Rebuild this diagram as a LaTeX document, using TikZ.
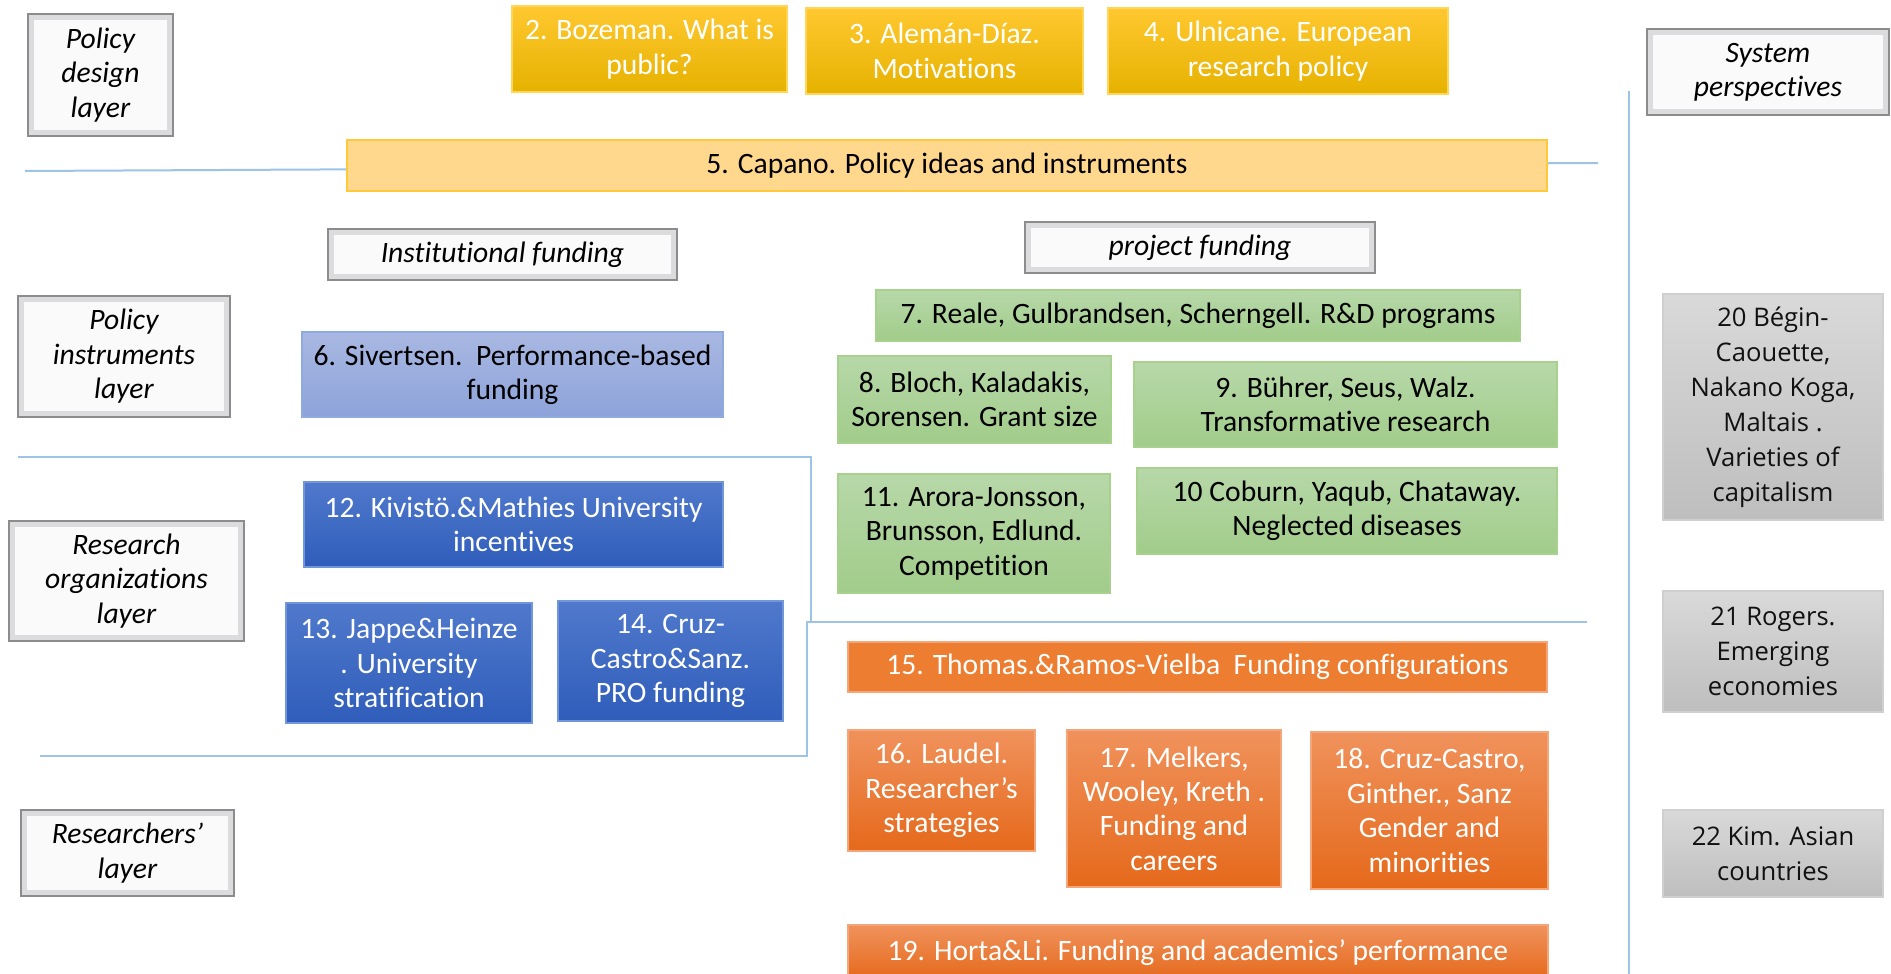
\documentclass[tikz,border=0pt]{standalone}
\usepackage{fontspec}
\setmainfont{Carlito}[Ligatures=NoCommon]
\newfontfamily\grayfont{Open Sans}
\definecolor{lineC}{HTML}{9DC3E6}
\definecolor{layB}{HTML}{8C8C8C}
\definecolor{layO}{HTML}{DCDCDF}
\definecolor{layI}{HTML}{FAFAFB}
\definecolor{yelT}{HTML}{FFC830}
\definecolor{yelBo}{HTML}{E6B200}
\definecolor{yelD}{HTML}{FFD55A}
\definecolor{capF}{HTML}{FFD88E}
\definecolor{capD}{HTML}{FFC93C}
\definecolor{lavT}{HTML}{A9B8E2}
\definecolor{lavB}{HTML}{8DA3DA}
\definecolor{lavD}{HTML}{8FAADC}
\definecolor{grnT}{HTML}{B7D8A9}
\definecolor{grnB}{HTML}{A1CC8A}
\definecolor{grnD}{HTML}{A9D18E}
\definecolor{bluT}{HTML}{5079CC}
\definecolor{bluB}{HTML}{2F5DBA}
\definecolor{bluD}{HTML}{7196DA}
\definecolor{orF}{HTML}{ED7D31}
\definecolor{orT}{HTML}{F0925C}
\definecolor{orB}{HTML}{E5691B}
\definecolor{orD}{HTML}{F4A57A}
\definecolor{gryT}{HTML}{D9D9D9}
\definecolor{gryB}{HTML}{BEBEBE}
\definecolor{gryD}{HTML}{CFCFCF}
\definecolor{txtD}{HTML}{111111}
\newcommand\mainsz{\fontsize{14.8}{17.2}\selectfont}
\newcommand\graysz{\fontsize{12.8}{17.5}\selectfont}
\newcommand\bx[7]{\node[#2, minimum width={(#5-#3)*0.5pt}, minimum height={(#6-#4)*0.5pt}] (#1) at ({(#3+#5)/2},{(#4+#6)/2}) {#7};}
\tikzset{
  every node/.style={inner sep=0pt, outer sep=0pt, align=center},
  sepline/.style={draw=lineC, line width=1pt},
  layerbox/.style={draw=layB, line width=1pt, fill=layO, text=black, font=\mainsz\itshape,
    path picture={\fill[layI] ([xshift=3pt,yshift=-3pt]path picture bounding box.north west) rectangle ([xshift=-3pt,yshift=3pt]path picture bounding box.south east);}},
  ybox/.style={draw=yelD, line width=0.6pt, top color=yelT, bottom color=yelBo, text=white, font=\mainsz},
  capbox/.style={draw=capD, line width=0.6pt, fill=capF, text=black, font=\mainsz},
  lavbox/.style={draw=lavD, line width=0.6pt, top color=lavT, bottom color=lavB, text=black, font=\mainsz},
  gbox/.style={draw=grnD, line width=0.6pt, top color=grnT, bottom color=grnB, text=black, font=\mainsz},
  bbox/.style={draw=bluD, line width=0.6pt, top color=bluT, bottom color=bluB, text=white, font=\mainsz},
  obox/.style={draw=orD, line width=0.6pt, fill=orF, text=white, font=\mainsz},
  ogbox/.style={draw=orD, line width=0.6pt, top color=orT, bottom color=orB, text=white, font=\mainsz},
  graybox/.style={draw=gryD, line width=0.6pt, top color=gryT, bottom color=gryB, text=txtD, font=\grayfont\graysz},
}
\begin{document}
\begin{tikzpicture}[x=0.5pt,y=-0.5pt]
\useasboundingbox (0,0) rectangle (1891,974);
% separator lines
\coordinate (l1a) at (25,171);
\coordinate (l1b) at (1598,163);
\coordinate (vtop) at (1629,91);
\coordinate (vbot) at (1629,974);
\coordinate (l2a) at (18,457);
\coordinate (l2b) at (811,622);
\coordinate (l3a) at (1587,622);
\coordinate (l3b) at (807,756);
\coordinate (l3c) at (40,756);
\draw[sepline] (l1a) -- (l1b);
\draw[sepline] (vtop) -- (vbot);
\draw[sepline] (l2a) -| (l2b);
\draw[sepline] (l3a) -| (l3b) -- (l3c);
% layer labels
\bx{pd}{layerbox}{28}{14}{173}{136}{Policy\\design\\layer}
\bx{pi}{layerbox}{18}{296}{230}{417}{Policy\\instruments\\layer}
\bx{ro}{layerbox}{9}{521}{244}{641}{Research\\organizations\\layer}
\bx{rl}{layerbox}{21}{810}{234}{896}{Researchers’\\layer}
\bx{sp}{layerbox}{1647}{29}{1889}{115}{System\\perspectives}
\bx{inst}{layerbox}{328}{229}{677}{280}{Institutional funding}
\bx{proj}{layerbox}{1025}{222}{1375}{273}{project funding}
% policy design
\bx{b2}{ybox}{512}{6}{787}{92}{2. Bozeman. What is\\public?}
\bx{b3}{ybox}{806}{8}{1083}{94}{3. Alemán-Díaz.\\Motivations}
\bx{b4}{ybox}{1108}{8}{1448}{94}{4. Ulnicane. European\\research policy}
\bx{b5}{capbox}{347}{140}{1547}{191}{5. Capano. Policy ideas and instruments}
% instruments
\bx{b6}{lavbox}{302}{332}{723}{417}{6. Sivertsen.\ \ Performance-based\\funding}
\bx{b7}{gbox}{876}{290}{1520}{341}{7. Reale, Gulbrandsen, Scherngell. R\&D programs}
\bx{b8}{gbox}{838}{356}{1111}{443}{8. Bloch, Kaladakis,\\Sorensen. Grant size}
\bx{b9}{gbox}{1134}{362}{1557}{447}{9. Bührer, Seus, Walz.\\Transformative research}
\bx{b11}{gbox}{838}{474}{1110}{593}{11. Arora-Jonsson,\\Brunsson, Edlund.\\Competition}
\bx{b10}{gbox}{1137}{468}{1557}{554}{10 Coburn, Yaqub, Chataway.\\Neglected diseases}
% organizations
\bx{b12}{bbox}{304}{482}{723}{567}{12. Kivistö.\&Mathies University\\incentives}
\bx{b13}{bbox}{286}{603}{532}{723}{13. Jappe\&Heinze\\. University\\stratification}
\bx{b14}{bbox}{558}{601}{783}{721}{14. Cruz-\\Castro\&Sanz.\\PRO funding}
% researchers
\bx{b15}{obox}{848}{642}{1547}{692}{15. Thomas.\&Ramos-Vielba\ \ Funding configurations}
\bx{b16}{ogbox}{848}{730}{1035}{851}{16. Laudel.\\Researcher’s\\strategies}
\bx{b17}{ogbox}{1067}{730}{1281}{887}{17. Melkers,\\Wooley, Kreth .\\Funding and\\careers}
\bx{b18}{ogbox}{1311}{732}{1548}{889}{18. Cruz-Castro,\\Ginther., Sanz\\Gender and\\minorities}
\bx{b19}{ogbox}{848}{925}{1548}{980}{19. Horta\&Li. Funding and academics’ performance}
% system perspectives
\bx{b20}{graybox}{1663}{294}{1883}{520}{20 Bégin-\\Caouette,\\Nakano Koga,\\Maltais .\\Varieties of\\capitalism}
\bx{b21}{graybox}{1663}{591}{1883}{712}{21 Rogers.\\Emerging\\economies}
\bx{b22}{graybox}{1663}{810}{1883}{897}{22 Kim. Asian\\countries}
\end{tikzpicture}
\end{document}
